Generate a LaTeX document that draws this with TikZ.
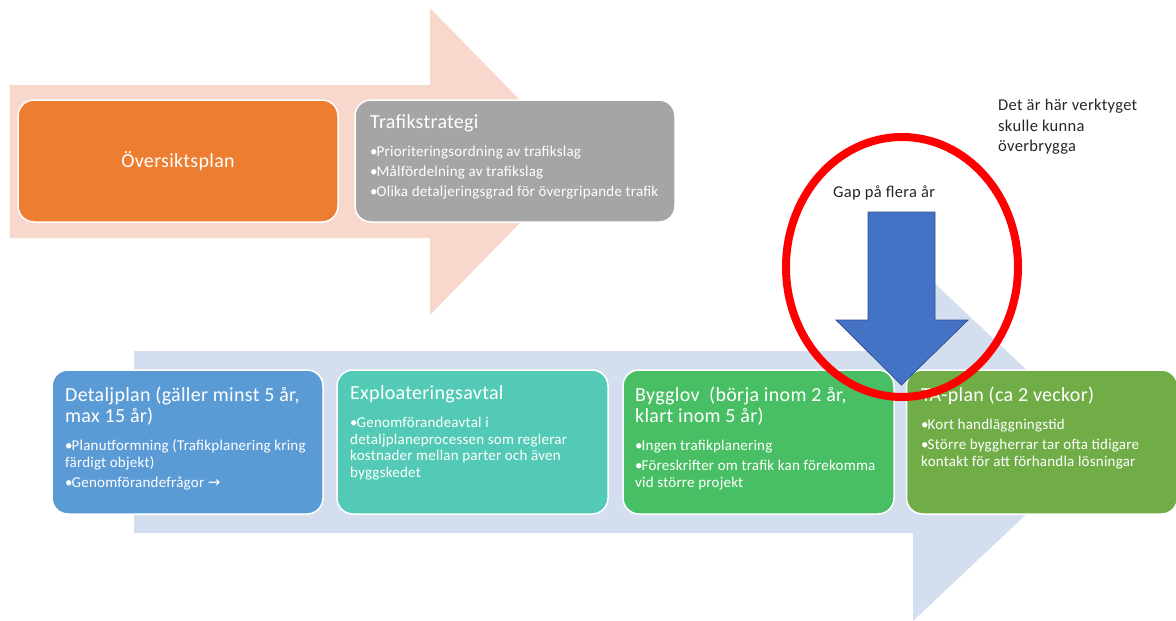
\documentclass[tikz,border=0pt]{standalone}
\usepackage{fontspec}
\usetikzlibrary{shapes.geometric}
\setmainfont{Carlito}
\newfontfamily\symf{DejaVu Sans}
\definecolor{salmon}{HTML}{F8D7CC}
\definecolor{paleblue}{HTML}{D3DEEF}
\definecolor{cOrange}{HTML}{ED7D31}
\definecolor{cGray}{HTML}{A5A5A5}
\definecolor{cBlue}{HTML}{5B9BD5}
\definecolor{cTeal}{HTML}{52CAB5}
\definecolor{cGreen}{HTML}{49BF65}
\definecolor{cLeaf}{HTML}{70AD47}
\definecolor{cArrow}{HTML}{4472C4}
\definecolor{cArrowEdge}{HTML}{2F528F}
\definecolor{cText}{HTML}{262626}
\newlength\bulw \setlength\bulw{6.5pt}
\newcommand\bitem{\par\hangindent=\bulw\hangafter=1\noindent\makebox[\bulw][l]{•}}
\newcommand\boxtxt[3]{\vtop{\hsize=#1\parindent=0pt\parskip=0pt\raggedright
  \fontsize{20}{21}\selectfont\addfontfeatures{LetterSpace=1.5}#2\par\vspace{8.5pt}%
  \fontsize{15}{16.5}\selectfont\addfontfeatures{LetterSpace=1.5}\parskip=3.5pt #3\par}}
\newcommand\plaintxt[2]{\vtop{\hsize=#1\parindent=0pt\raggedright #2\par}}
\tikzset{
  stagebox/.style={draw=white, line width=1.5pt, rounded corners=16pt, inner sep=0pt},
  boxlabel/.style={anchor=base west, inner sep=0pt, text=white},
  note/.style={anchor=base west, inner sep=0pt, text=cText, font=\fontsize{16.5}{20.5}\selectfont\addfontfeatures{LetterSpace=2}},
}
\begin{document}
\begin{tikzpicture}[x=1pt,y=-1pt]
\useasboundingbox (0,0) rectangle (1176,621);
% big background arrows
\fill[salmon] (9.6,85) -- (430,85) -- (430,8) -- (580,161.5) -- (430,315) -- (430,238) -- (9.6,238) -- cycle;
\fill[paleblue] (134,351) -- (913,351) -- (913,263) -- (1103,442) -- (913,621) -- (913,533) -- (134,533) -- cycle;
% stage boxes
\node[stagebox, fill=cOrange, minimum width=320pt, minimum height=122pt] (ovp) at (178,161) {};
\node[stagebox, fill=cGray, minimum width=320pt, minimum height=122pt] (tfs) at (515,161) {};
\node[stagebox, fill=cBlue, minimum width=271pt, minimum height=144pt] (dp) at (187.5,442) {};
\node[stagebox, fill=cTeal, minimum width=271pt, minimum height=144pt] (ea) at (472.5,442) {};
\node[stagebox, fill=cGreen, minimum width=271pt, minimum height=144pt] (bl) at (758.5,442) {};
\node[stagebox, fill=cLeaf, minimum width=271pt, minimum height=144pt] (ta) at (1042,442) {};
% texts
\node[text=white, font=\fontsize{20}{22}\selectfont\addfontfeatures{LetterSpace=1.5}] (ovpt) at (ovp) {Översiktsplan};
\node[boxlabel] (tfst) at (370,128) {\boxtxt{310pt}{Trafikstrategi}{%
  \bitem Prioriteringsordning av trafikslag
  \bitem Målfördelning av trafikslag
  \bitem Olika detaljeringsgrad för övergripande trafik}};
\node[boxlabel] (dpt) at (65,401) {\boxtxt{300pt}{Detaljplan (gäller minst 5 år,\\ max 15 år)}{%
  \bitem Planutformning (Trafikplanering kring\\ färdigt objekt)
  \bitem Genomförandefrågor {\symf\fontsize{15}{16.5}\selectfont →}}};
\node[boxlabel] (eat) at (350,399) {\boxtxt{300pt}{Exploateringsavtal}{%
  \bitem Genomförandeavtal i\\ detaljplaneprocessen som reglerar\\ kostnader mellan parter och även\\ byggskedet}};
\node[boxlabel] (blt) at (635,401) {\boxtxt{300pt}{Bygglov\ \ (börja inom 2 år,\\ klart inom 5 år)}{%
  \bitem Ingen trafikplanering
  \bitem Föreskrifter om trafik kan förekomma\\ vid större projekt}};
\node[boxlabel] (tat) at (921,401) {\boxtxt{300pt}{TA-plan (ca 2 veckor)}{%
  \bitem Kort handläggningstid
  \bitem Större byggherrar tar ofta tidigare\\ kontakt för att förhandla lösningar}};
% gap arrow
\draw[fill=cArrow, draw=cArrowEdge, line width=0.75pt]
  (868,212) -- (935,212) -- (935,320) -- (968,320) -- (901.5,385) -- (836,320) -- (868,320) -- cycle;
% red ellipse
\node[draw=red, line width=8pt, ellipse, minimum width=232pt, minimum height=260pt, inner sep=0pt] (ring) at (902,267) {};
% notes
\node[note] (gap) at (833,197) {Gap på flera år};
\node[note] (tool) at (998,110.7) {\plaintxt{180pt}{Det är här verktyget\\ skulle kunna\\ överbrygga}};
\end{tikzpicture}
\end{document}
